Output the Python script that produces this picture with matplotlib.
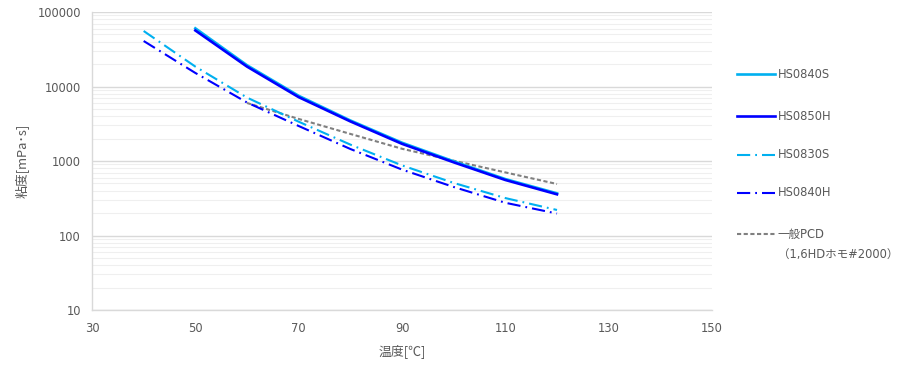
import matplotlib
matplotlib.use("Agg")
import matplotlib.pyplot as plt
from matplotlib.lines import Line2D
from matplotlib.ticker import LogLocator, FixedLocator, NullFormatter

plt.rcParams['font.family'] = ['DejaVu Sans', 'Noto Sans CJK JP']
plt.rcParams['lines.scale_dashes'] = False

# temperatures (°C)
temp_50 = [50, 60, 70, 80, 90, 100, 110, 120]
temp_40 = [40, 50, 60, 70, 80, 90, 100, 110, 120]
temp_60 = [60, 70, 80, 90, 100, 110, 120]

# viscosity (mPa·s)
hs0840s = [60400, 19300, 7500, 3500, 1760, 990, 572, 368]
hs0850h = [56500, 18500, 7200, 3400, 1700, 960, 556, 357]
hs0830s = [55600, 18500, 7100, 3370, 1660, 873, 508, 318, 220]
hs0840h = [40800, 15200, 6100, 2950, 1450, 767, 448, 275, 197]
pcd = [6010, 3670, 2310, 1460, 1010, 703, 491]

labels = ["HS0840S", "HS0850H", "HS0830S", "HS0840H", "一般PCD", "（1,6HDホモ#2000）"]
x_ticks = [30, 50, 70, 90, 110, 130, 150]
y_ticks = [10, 100, 1000, 10000, 100000]

c_light = "#00b0f0"
c_dark = "#0000ff"
c_gray = "#808080"
c_text = "#595959"
fs = 8.3
cjk = ['Noto Sans CJK JP', 'DejaVu Sans']

fig = plt.figure(figsize=(9, 3.66), dpi=100)
ax = fig.add_axes([92/900, 1-310/366, 620/900, 298/366])

dashdot = (9.5, 3.6, 1.3, 3.6)
ax.plot(temp_50, hs0840s, color=c_light, lw=1.9, zorder=3)
ax.plot(temp_50, hs0850h, color=c_dark, lw=1.9, zorder=4)
ax.plot(temp_40, hs0830s, color=c_light, lw=1.5, dashes=dashdot, zorder=3)
ax.plot(temp_40, hs0840h, color=c_dark, lw=1.5, dashes=dashdot, zorder=3)
ax.plot(temp_60, pcd, color=c_gray, lw=1.5, dashes=(3, 1.8), zorder=2)

ax.set_yscale('log')
ax.set_xlim(30, 150)
ax.set_ylim(10, 100000)
ax.xaxis.set_major_locator(FixedLocator(x_ticks))
ax.yaxis.set_major_locator(FixedLocator(y_ticks))
ax.set_yticklabels([str(v) for v in y_ticks])
ax.yaxis.set_minor_locator(LogLocator(base=10, subs=range(2, 10)))
ax.yaxis.set_minor_formatter(NullFormatter())
ax.grid(True, which='major', axis='y', color='#d9d9d9', lw=1.0)
ax.grid(True, which='minor', axis='y', color='#efefef', lw=0.8)
ax.set_axisbelow(True)

for s in ['top', 'right']:
    ax.spines[s].set_visible(False)
for s in ['left', 'bottom']:
    ax.spines[s].set_color('#d9d9d9')
    ax.spines[s].set_linewidth(1.0)

ax.tick_params(axis='both', which='both', length=0, colors=c_text, labelsize=fs)
ax.tick_params(axis='x', pad=9)
ax.tick_params(axis='y', pad=8)

ax.set_xlabel("温度[℃]", color=c_text, fontsize=9.3, family=cjk, labelpad=6)
ax.set_ylabel("粘度[mPa･s]", color=c_text, fontsize=9.3, family=cjk, labelpad=6)

# legend (manual, right side)
ys = [74, 116, 155, 193, 234]
styles = [
    dict(color=c_light, lw=1.9),
    dict(color=c_dark, lw=1.9),
    dict(color=c_light, lw=1.5, dashes=dashdot),
    dict(color=c_dark, lw=1.5, dashes=dashdot),
    dict(color=c_gray, lw=1.5, dashes=(3, 1.8)),
]
for y, st, lab in zip(ys, styles, labels[:5]):
    yf = 1 - y/366
    fig.add_artist(Line2D([737/900, 775/900], [yf, yf], transform=fig.transFigure, **st))
    fig.text(778/900, yf, lab, color=c_text, fontsize=fs, va='center', ha='left')
fig.text(778/900, 1 - 254/366, labels[5], color=c_text, fontsize=fs, va='center', ha='left')

fig.savefig("out.png", dpi=100)
